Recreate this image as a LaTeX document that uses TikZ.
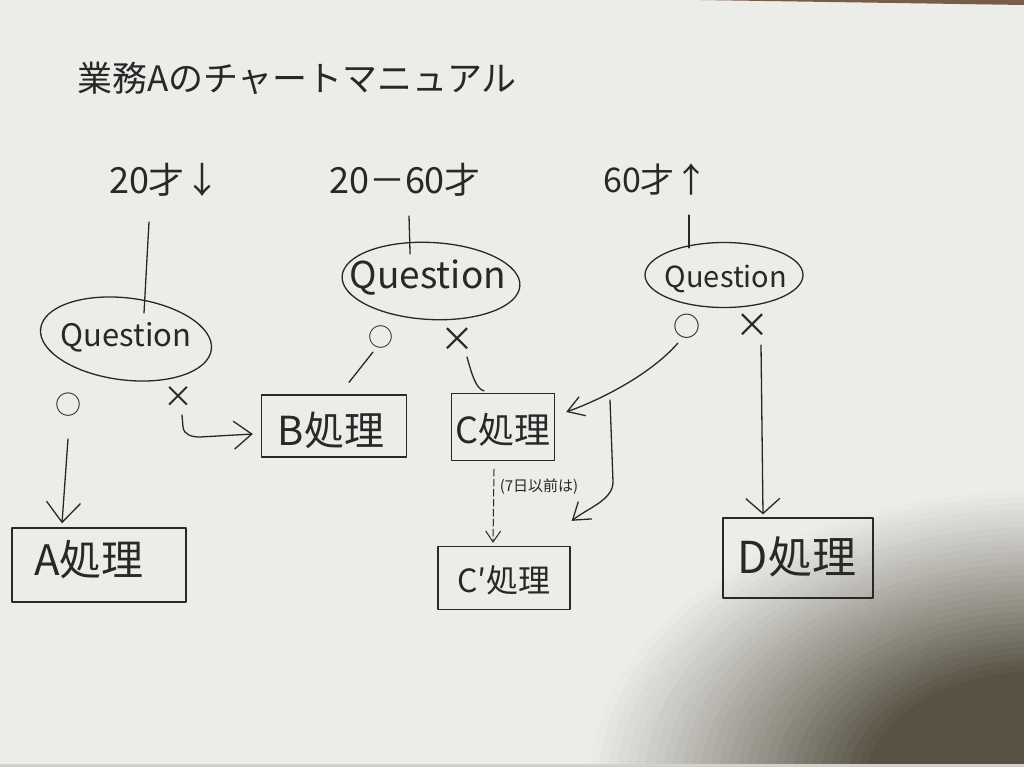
\documentclass[tikz,border=0pt]{standalone}
\usepackage{fontspec}
\newfontfamily\jp{Noto Sans CJK JP}
\usetikzlibrary{arrows.meta,shapes.geometric,calc}
\definecolor{paper}{RGB}{236,236,233}
\definecolor{ink}{RGB}{40,40,40}
\definecolor{shadowc}{RGB}{88,82,68}
\definecolor{edgec}{RGB}{120,92,72}
\definecolor{bottomc}{RGB}{210,208,203}
\newcommand{\myfs}[1]{\fontsize{#1pt}{#1pt}\selectfont}
\tikzset{
  pen/.style={draw=ink, line width=1.3pt, line cap=round, line join=round},
  box/.style={pen, rectangle, inner sep=0pt},
  qnode/.style={pen, ellipse, inner sep=0pt},
  txt/.style={text=ink, inner sep=0pt},
}
\begin{document}
\begin{tikzpicture}[x=1pt,y=-1pt]
\useasboundingbox (0,0) rectangle (1024,767);
\fill[paper] (0,0) rectangle (1024,767);
\begin{scope}
\clip (0,0) rectangle (1024,767);
\foreach \k in {0,...,49} {
  \pgfmathsetmacro\f{1-\k/50}
  \pgfmathsetmacro\p{min(100,170*(1-\f)^1.1)}
  \fill[shadowc!\p!paper] (1040,785) ellipse [x radius=460*\f, y radius=300*\f];
}
\fill[edgec] (700,0) -- (1024,0) -- (1024,5) -- cycle;
\fill[bottomc] (0,764) rectangle (1024,767);
\end{scope}

% title and age labels
\node[txt, font=\jp\myfs{35}] (title) at (297,78) {業務Aのチャートマニュアル};
\node[txt, font=\jp\myfs{36}] (age1) at (165,180) {20才↓};
\node[txt, font=\jp\myfs{36}] (age2) at (405,180) {20－60才};
\node[txt, font=\jp\myfs{34}] (age3) at (656,180) {60才↑};

% questions
\node[qnode, minimum width=172, minimum height=82, rotate=-7] (Q1) at (126,339) {};
\node[txt, font=\jp\myfs{31}] (Q1t) at (126,337) {Question};
\node[qnode, minimum width=178, minimum height=77, rotate=-3] (Q2) at (431,281) {};
\node[txt, font=\jp\myfs{37}] (Q2t) at (428,278) {Question};
\node[qnode, minimum width=158, minimum height=65] (Q3) at (724,275) {};
\node[txt, font=\jp\myfs{29}] (Q3t) at (726,279) {Question};

% o / x labels
\node[txt, font=\jp\myfs{26}] (o1) at (68,405) {○};
\node[txt, font=\jp\myfs{30}] (x1) at (178,397) {×};
\node[txt, font=\jp\myfs{25}] (o2) at (381,337) {○};
\node[txt, font=\jp\myfs{34}] (x2) at (457,340) {×};
\node[txt, font=\jp\myfs{27}] (o3) at (687,326) {○};
\node[txt, font=\jp\myfs{34}] (x3) at (752,326) {×};

% boxes
\node[box, minimum width=174, minimum height=74] (A) at (99,565) {};
\node[txt, font=\jp\myfs{42}] (At) at (89,560) {A処理};
\node[box, minimum width=145, minimum height=62] (B) at (334,426) {};
\node[txt, font=\jp\myfs{40}] (Bt) at (331,430) {B処理};
\node[box, minimum width=103, minimum height=67] (C) at (503,427) {};
\node[txt, font=\jp\myfs{36}] (Ct) at (503,430) {C処理};
\node[box, minimum width=132, minimum height=63] (Cp) at (504,578) {};
\node[txt, font=\jp\myfs{32}] (Cpt) at (504,580) {C′処理};
\node[box, minimum width=150, minimum height=80] (D) at (798,558) {};
\node[txt, font=\jp\myfs{44}] (Dt) at (797,557) {D処理};

\node[txt, font=\jp\myfs{15}] (note) at (539,487) {(7日以前は)};

% stems
\draw[pen] ($(age1.center)+(-16,42)$) -- ($(Q1.center)+(18,-26)$);
\draw[pen] ($(age2.center)+(4,36)$) -- ($(Q2.north)+(-23,12)$);
\draw[pen] ($(age3.center)+(33,35)$) -- ($(Q3.north)+(-35,6)$);

% connectors
\draw[pen, -{Straight Barb[length=20pt,width=34pt]}] ($(o1)+(0,34)$) -- ($(A.north)+(-37,-4)$);
\draw[pen, -{Straight Barb[length=18pt,width=28pt]}] ($(x1)+(4,18)$) -- ++(1,12)
   .. controls +(1,8) and +(-8,0) .. ++(17,10) -- ($(B.west)+(-8,8)$);
\draw[pen] ($(o2)+(-8,15)$) -- ($(B.north)+(15,-12)$);
\draw[pen] ($(x2)+(10,17)$) .. controls +(5,18) and +(-8,-2) .. ($(C.north)+(-19,-2)$);
\draw[pen, -{Straight Barb[length=16pt,width=20pt]}] ($(o3)+(-9,17)$)
   .. controls (650,375) and (600,400) .. ($(C.east)+(11,-15)$);
\coordinate (br) at (610,400);
\draw[pen, -{Straight Barb[length=16pt,width=22pt]}] (br) -- (613,482)
   .. controls (613,500) and (588,508) .. ($(Cp.north east)+(1,-25)$);
\draw[pen, line width=1pt, dash pattern=on 7pt off 3pt, -{Straight Barb[length=11pt,width=15pt]}]
   ($(C.south)+(-9,8)$) -- ($(Cp.north)+(-11,-3)$);
\draw[pen, -{Straight Barb[length=15pt,width=34pt]}] ($(x3)+(9,19)$) -- ($(D.north)+(-35,-3)$);
\end{tikzpicture}
\end{document}
